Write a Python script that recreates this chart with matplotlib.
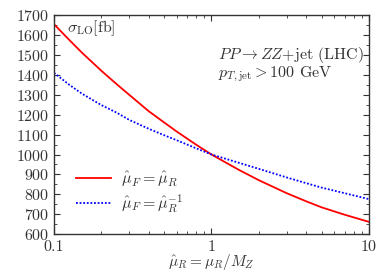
import matplotlib
matplotlib.use("Agg")
import matplotlib.pyplot as plt
import numpy as np
from matplotlib.ticker import MultipleLocator, FixedLocator, NullFormatter, FixedFormatter, LogLocator

plt.rcParams['font.family'] = 'serif'
plt.rcParams['font.serif'] = ['cmr10']
plt.rcParams['mathtext.fontset'] = 'cm'
plt.rcParams['axes.formatter.use_mathtext'] = True

mu = [0.1, 0.125, 0.15, 0.2, 0.25, 0.3, 0.4, 0.5, 0.6, 0.7, 0.8, 1.0,
      1.5, 2.0, 3.0, 4.0, 5.0, 7.0, 10.0]
sigma_equal = [1654, 1575, 1512, 1420, 1353, 1300, 1217, 1161, 1116, 1080, 1049, 1000,
               922, 871, 806, 765, 735, 698, 662]
sigma_inverse = [1410, 1350, 1306, 1248, 1210, 1174, 1129, 1097, 1072, 1050, 1031, 1000,
                 958, 928, 885, 856, 834, 806, 776]

xticks = [0.1, 1, 10]
xticklabels = ['0.1', '1', '10']

fig = plt.figure(figsize=(3.87, 2.73), dpi=100)
ax = fig.add_axes([0.1395, 0.142, 0.814, 0.803])
fs = 11.5
tc = '#333333'

ax.plot(mu, sigma_equal, color='#ff0000', lw=1.3, ls='-', label=r'$\hat{\mu}_F = \hat{\mu}_R$')
ax.plot(mu, sigma_inverse, color='#0000ff', lw=1.3, ls=(0, (1, 1)), label=r'$\hat{\mu}_F = \hat{\mu}_R^{-1}$')

ax.set_xscale('log')
ax.set_xlim(0.1, 10)
ax.set_ylim(600, 1700)
ax.xaxis.set_major_locator(FixedLocator(xticks))
ax.xaxis.set_major_formatter(FixedFormatter(xticklabels))
ax.xaxis.set_minor_locator(LogLocator(base=10, subs=np.arange(2, 10)))
ax.xaxis.set_minor_formatter(NullFormatter())
ax.yaxis.set_major_locator(MultipleLocator(100))
ax.yaxis.set_minor_locator(MultipleLocator(50))
ax.tick_params(which='both', direction='in', top=True, right=True, labelsize=fs, labelcolor=tc, color='#333333')
ax.tick_params(which='major', length=4, width=0.8)
ax.tick_params(which='minor', length=2, width=0.6)
ax.tick_params(axis='x', which='major', pad=4)
ax.tick_params(axis='y', which='major', pad=3)
for s in ax.spines.values():
    s.set_color('#333333')
    s.set_linewidth(1.0)

ax.set_xlabel(r'$\hat{\mu}_R = \mu_R/M_Z$', fontsize=11, color=tc, labelpad=-1)
ax.text(0.04, 0.985, r'$\sigma_{\rm LO}[{\rm fb}]$', transform=ax.transAxes, fontsize=fs, color=tc, va='top', ha='left')
ax.text(0.522, 0.818, r'$PP \rightarrow ZZ{+}{\rm jet}$ (LHC)', transform=ax.transAxes, fontsize=fs, color=tc, va='center', ha='left')
ax.text(0.522, 0.728, r'$p_{T,{\rm jet}} > 100$ GeV', transform=ax.transAxes, fontsize=fs, color=tc, va='center', ha='left')

leg = ax.legend(loc='lower left', bbox_to_anchor=(0.05, 0.06), frameon=False, fontsize=fs,
                handlelength=2.2, handletextpad=0.6, labelspacing=0.2, borderaxespad=0)
for t in leg.get_texts():
    t.set_color(tc)

fig.savefig('out.png', dpi=100)
